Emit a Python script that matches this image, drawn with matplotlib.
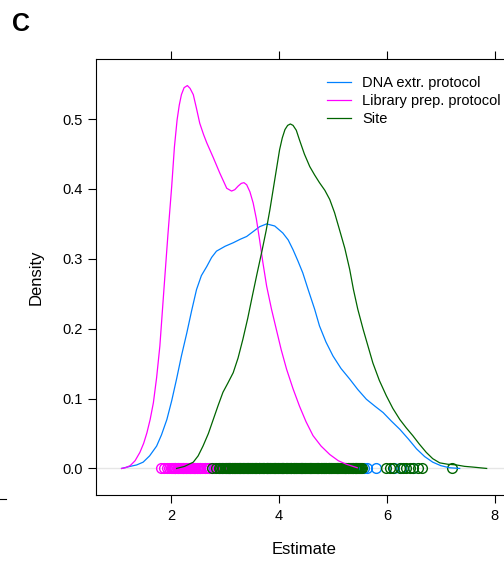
"""Panel C: density of estimates by grouping factor (lattice-style densityplot)."""
import matplotlib
matplotlib.use("Agg")
import matplotlib.pyplot as plt
from matplotlib.lines import Line2D

plt.rcParams["font.family"] = ["Liberation Sans", "DejaVu Sans"]

LABELS = ["DNA extr. protocol", "Library prep. protocol", "Site"]
COLORS = ["#0080ff", "#ff00ff", "#006400"]

# density curves (x = estimate, y = density)
dna_x = [1.08, 1.24, 1.36, 1.48, 1.60, 1.73, 1.82, 1.92, 2.01, 2.10, 2.19, 2.29, 2.38,
         2.47, 2.56, 2.66, 2.75, 2.84, 3.00, 3.15, 3.28, 3.40, 3.52, 3.64, 3.77, 3.92,
         4.07, 4.17, 4.26, 4.35, 4.44, 4.54, 4.66, 4.75, 4.87, 5.00, 5.15, 5.31, 5.46,
         5.62, 5.78, 5.93, 6.08, 6.24, 6.40, 6.55, 6.70, 6.85, 7.00, 7.16, 7.35]
dna_y = [0.000, 0.003, 0.005, 0.009, 0.018, 0.032, 0.048, 0.070, 0.097, 0.128, 0.161,
         0.194, 0.226, 0.256, 0.276, 0.289, 0.302, 0.311, 0.318, 0.323, 0.328, 0.332,
         0.339, 0.346, 0.350, 0.347, 0.337, 0.327, 0.313, 0.297, 0.280, 0.256, 0.228,
         0.204, 0.181, 0.161, 0.143, 0.128, 0.113, 0.099, 0.089, 0.080, 0.068, 0.056,
         0.042, 0.028, 0.017, 0.009, 0.004, 0.001, 0.000]

lib_x = [1.08, 1.15, 1.24, 1.33, 1.42, 1.49, 1.55, 1.61, 1.67, 1.73, 1.79, 1.87, 1.94,
         2.01, 2.06, 2.11, 2.15, 2.19, 2.24, 2.30, 2.35, 2.41, 2.47, 2.53, 2.60, 2.66,
         2.78, 2.90, 3.03, 3.12, 3.18, 3.24, 3.30, 3.35, 3.40, 3.46, 3.52, 3.58, 3.64,
         3.70, 3.77, 3.86, 3.95, 4.04, 4.14, 4.26, 4.38, 4.50, 4.63, 4.78, 4.94, 5.10,
         5.25, 5.45]
lib_y = [0.000, 0.001, 0.004, 0.011, 0.023, 0.036, 0.051, 0.070, 0.094, 0.130, 0.175,
         0.261, 0.335, 0.404, 0.460, 0.499, 0.520, 0.535, 0.545, 0.548, 0.544, 0.535,
         0.515, 0.494, 0.478, 0.466, 0.445, 0.423, 0.401, 0.397, 0.399, 0.404, 0.408,
         0.409, 0.406, 0.396, 0.380, 0.357, 0.327, 0.295, 0.261, 0.228, 0.199, 0.170,
         0.142, 0.114, 0.089, 0.067, 0.047, 0.032, 0.020, 0.011, 0.006, 0.001]

site_x = [2.10, 2.25, 2.41, 2.50, 2.59, 2.69, 2.78, 2.87, 2.96, 3.05, 3.15, 3.24, 3.33,
          3.42, 3.50, 3.59, 3.68, 3.76, 3.83, 3.92, 4.01, 4.06, 4.11, 4.16, 4.21, 4.26,
          4.32, 4.38, 4.47, 4.57, 4.66, 4.75, 4.85, 4.94, 5.03, 5.12, 5.22, 5.31, 5.38,
          5.46, 5.56, 5.65, 5.74, 5.86, 5.99, 6.11, 6.24, 6.36, 6.48, 6.60, 6.73, 6.85,
          6.98, 7.13, 7.29, 7.44, 7.59, 7.72, 7.85]
site_y = [0.000, 0.003, 0.009, 0.018, 0.032, 0.050, 0.070, 0.090, 0.109, 0.122, 0.137,
          0.158, 0.185, 0.215, 0.245, 0.278, 0.310, 0.340, 0.370, 0.413, 0.456, 0.473,
          0.485, 0.491, 0.493, 0.491, 0.484, 0.470, 0.450, 0.432, 0.420, 0.409, 0.398,
          0.385, 0.366, 0.342, 0.315, 0.285, 0.256, 0.228, 0.199, 0.175, 0.151, 0.126,
          0.104, 0.086, 0.070, 0.058, 0.047, 0.035, 0.023, 0.014, 0.008, 0.006, 0.005,
          0.003, 0.002, 0.001, 0.000]

# raw estimates drawn as open circles on the zero line
dna_est = [2.08, 2.22, 2.35, 2.44, 2.53, 2.62, 2.71, 2.80, 2.88, 2.95, 3.02, 3.10, 3.18,
           3.25, 3.33, 3.41, 3.49, 3.56, 3.63, 3.70, 3.77, 3.84, 3.91, 3.98, 4.06, 4.14,
           4.22, 4.31, 4.40, 4.49, 4.60, 4.71, 4.83, 4.96, 5.10, 5.25, 5.40, 5.58, 5.63,
           5.80, 6.14, 6.27, 6.48]
lib_est = [1.81, 1.86, 1.92, 1.96,
           2.00, 2.02, 2.03, 2.05, 2.07, 2.08,
           2.10, 2.12, 2.13, 2.15, 2.17, 2.18,
           2.20, 2.22, 2.23, 2.25, 2.27, 2.28,
           2.30, 2.32, 2.33, 2.35, 2.37, 2.38,
           2.40, 2.42, 2.43, 2.45, 2.47, 2.48,
           2.50, 2.52, 2.54, 2.58, 2.62, 2.66, 2.70, 2.75, 2.82, 2.86, 2.92, 2.98,
           3.05, 3.10, 3.16, 3.22, 3.35, 3.47, 3.62, 3.80, 4.05, 4.40]
site_est = [2.76, 2.84, 2.88, 2.91, 2.94, 2.97,
            3.00, 3.02, 3.03, 3.05, 3.07, 3.08,
            3.10, 3.12, 3.13, 3.15, 3.17, 3.18,
            3.20, 3.22, 3.23, 3.25, 3.27, 3.28,
            3.30, 3.32, 3.33, 3.35, 3.37, 3.38,
            3.40, 3.42, 3.43, 3.45, 3.47, 3.48,
            3.50, 3.52, 3.53, 3.55, 3.57, 3.58,
            3.60, 3.62, 3.63, 3.65, 3.67, 3.68,
            3.70, 3.72, 3.73, 3.75, 3.77, 3.78,
            3.80, 3.82, 3.83, 3.85, 3.87, 3.88,
            3.90, 3.92, 3.93, 3.95, 3.97, 3.98,
            4.00, 4.02, 4.03, 4.05, 4.07, 4.08,
            4.10, 4.12, 4.13, 4.15, 4.17, 4.18,
            4.20, 4.22, 4.23, 4.25, 4.27, 4.28,
            4.30, 4.32, 4.33, 4.35, 4.37, 4.38,
            4.40, 4.42, 4.43, 4.45, 4.47, 4.48,
            4.50, 4.52, 4.53, 4.55, 4.57, 4.58,
            4.60, 4.62, 4.63, 4.65, 4.67, 4.68,
            4.70, 4.72, 4.73, 4.75, 4.77, 4.78,
            4.80, 4.82, 4.83, 4.85, 4.87, 4.88,
            4.90, 4.92, 4.93, 4.95, 4.97, 4.98,
            5.00, 5.02, 5.03, 5.05, 5.07, 5.08,
            5.10, 5.12, 5.13, 5.15, 5.17, 5.18,
            5.20, 5.22, 5.23, 5.25, 5.27, 5.28,
            5.30, 5.32, 5.33, 5.35, 5.37, 5.38,
            5.40, 5.42, 5.43, 5.45, 5.47, 5.48,
            5.50, 5.52, 5.54,
            5.99, 6.05, 6.12, 6.24, 6.29, 6.36, 6.42, 6.48, 6.57, 6.66, 7.20]

X_TICKS = [2, 4, 6, 8]
Y_TICKS = [0.0, 0.1, 0.2, 0.3, 0.4, 0.5]


def main() -> None:
    W, H = 504, 563
    fig = plt.figure(figsize=(W / 100, H / 100), dpi=100)
    # panel runs past the right edge of the image, as in the original
    left, right, top, bottom = 96, 512, 59, 495
    ax = fig.add_axes([left / W, 1 - bottom / H, (right - left) / W, (bottom - top) / H])

    ax.axhline(0, color="#e6e6e6", lw=1.0, zorder=1)

    groups = [
        (dna_x, dna_y, dna_est),
        (lib_x, lib_y, lib_est),
        (site_x, site_y, site_est),
    ]
    handles = []
    for (xs, ys, est), color, label in zip(groups, COLORS, LABELS):
        ax.plot(est, [0.0] * len(est), linestyle="none", marker="o", ms=7,
                mfc="none", mec=color, mew=1.0, zorder=2)
        line, = ax.plot(xs, ys, color=color, lw=0.9, label=label, zorder=3)
        handles.append(line)

    ax.set_xlim(0.606, 8.32)
    ax.set_ylim(-0.038, 0.586)
    ax.set_xticks(X_TICKS)
    ax.set_yticks(Y_TICKS)
    ax.set_yticklabels([f"{v:.1f}" for v in Y_TICKS])
    ax.tick_params(direction="out", length=5.8, width=0.8, top=True, right=True,
                   labeltop=False, labelright=False, labelsize=10.5, pad=4)
    for spine in ax.spines.values():
        spine.set_linewidth(0.8)

    ax.set_xlabel("Estimate", fontsize=12)
    ax.set_ylabel("Density", fontsize=12)
    ax.xaxis.set_label_coords(0.5, -0.108)
    ax.yaxis.set_label_coords(-0.125, 0.5)

    ax.legend(handles=handles, loc="upper left",
              bbox_to_anchor=((327 - left) / 416, 1 - (76 - top) / 436),
              frameon=False, fontsize=10.5, handlelength=1.65, handletextpad=0.75,
              labelspacing=0.29, borderpad=0, borderaxespad=0)

    fig.text(12 / W, 1 - 31 / H, "C", fontsize=18, fontweight="bold", va="baseline")
    fig.add_artist(Line2D([0, 6 / W], [1 - 499 / H, 1 - 499 / H], color="black", lw=0.8))

    fig.savefig("out.png", dpi=100)
    plt.close(fig)


if __name__ == "__main__":
    main()
